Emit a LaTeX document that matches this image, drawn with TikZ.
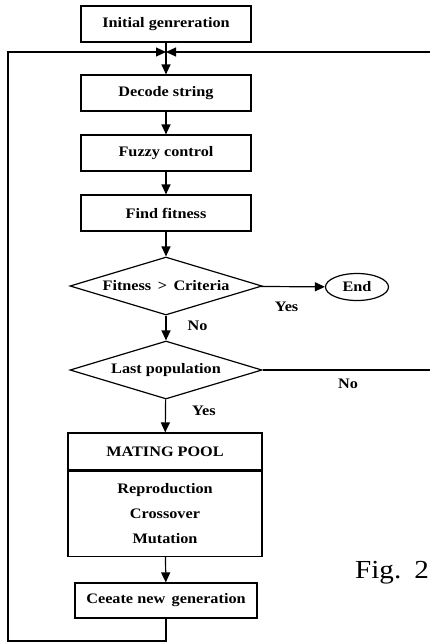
\documentclass[tikz,border=0pt]{standalone}
\usepackage{fontspec}
\setmainfont{Liberation Serif}[FakeStretch=1.12]
\usetikzlibrary{
    arrows.meta,
    positioning,
    shapes.geometric,
}

\begin{document}
\begin{tikzpicture}[
        x=1pt, y=-1pt,
        every node/.style={font=\fontsize{14.5}{16}\selectfont\bfseries},
        process/.style={rectangle, draw=black, line width=1.2pt, minimum width=170pt, minimum height=36pt, inner sep=0pt},
        decision/.style={diamond, draw=black, line width=1.2pt, minimum width=192pt, minimum height=58pt, aspect=3.3, inner sep=0pt},
        terminal/.style={ellipse, draw=black, line width=1.2pt, minimum width=63pt, minimum height=27pt, inner sep=0pt},
        connection/.style={-{Triangle[length=10pt, width=9pt]}, line width=1.2pt},
        link/.style={line width=1.2pt},
        tag/.style={inner sep=0pt},
    ]
        \useasboundingbox (0,0) rectangle (430,643);

        % Main chain
        \foreach \name/\y/\txt in {init/24/Initial genreration, decode/93/Decode string, fuzzy/153/Fuzzy control, find/213/Find fitness} {
            \node[process] (\name) at (166,\y) {\txt};
        }
        % Decisions
        \node[decision] (fit) at (166,286) {Fitness \,>\, Criteria};
        \node[decision] (last) at (166,370) {Last population};
        \node[terminal] (stop) at (357,287) {End};

        % Mating pool
        \node[process, minimum width=194pt, minimum height=37pt] (pool) at (165,451.5) {MATING POOL};
        \node[process, minimum width=194pt, minimum height=85pt, below=0pt of pool, align=center,
              font=\fontsize{14.5}{25}\selectfont\bfseries] (ops) {Reproduction\\Crossover\\Mutation};
        \node[process, minimum width=182pt, minimum height=35pt] (create) at (166,600.5) {Ceeate new\, generation};

        % Loop points
        \coordinate (merge) at (166,52);
        \coordinate (rtop) at (430,52);
        \coordinate (rno) at (430,370);
        \coordinate (loopbl) at (8,641);

        % Straight connections
        \draw[connection] (init) -- (decode);
        \foreach \a/\b in {decode/fuzzy, fuzzy/find, find/fit, ops/create}
            \draw[connection] (\a) -- (\b);

        % Decision outputs
        \draw[connection] (fit) -- node[tag, below=15pt, pos=0.4] {Yes} (stop);
        \draw[connection] (fit) -- node[tag, right=21pt, pos=0.4] {No} (last);
        \draw[link] (last) -- node[tag, below=8pt, pos=0.51] {No} (rno);
        \draw[connection] (last) -- node[tag, right=26pt, pos=0.34] {Yes} (pool);

        % Feedback loops
        \draw[connection] (create) |- (loopbl) |- (merge);
        \draw[connection] (rtop) -- (merge);

        % Caption
        \node[font=\fontsize{26}{30}\selectfont] (caption) at (392,573) {Fig.\enspace 2};
    \end{tikzpicture}
\end{document}
